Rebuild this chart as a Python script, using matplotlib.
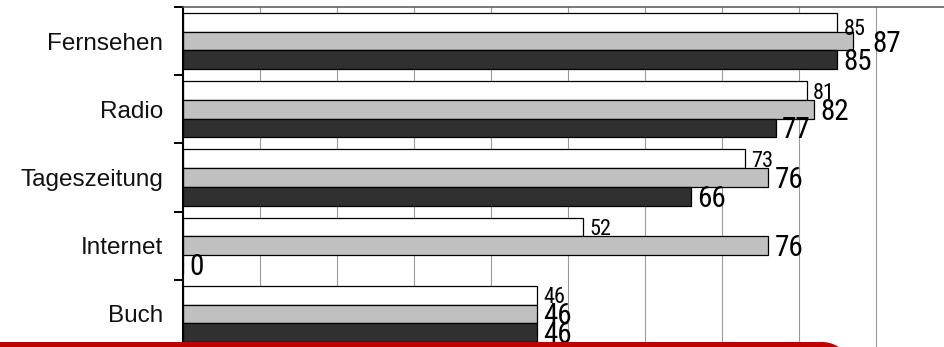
import matplotlib
matplotlib.use("Agg")
import matplotlib.pyplot as plt
import matplotlib.font_manager as fm
from matplotlib.patches import Polygon
import numpy as np

categories = ["Fernsehen", "Radio", "Tageszeitung", "Internet", "Buch"]
series_a = [85, 81, 73, 52, 46]   # white bars
series_b = [87, 82, 76, 76, 46]   # light grey bars
series_c = [85, 77, 66, 0, 46]    # dark bars

# font choice
names = {f.name for f in fm.fontManager.ttflist}
narrow = next((n for n in ["Liberation Sans Narrow", "Arial Narrow", "Roboto Condensed",
                           "Archivo Narrow", "PT Sans Narrow"] if n in names), "Liberation Sans")
label_font = "Liberation Sans" if "Liberation Sans" in names else "DejaVu Sans"

W, H = 945, 347
fig = plt.figure(figsize=(W / 100, H / 100), dpi=100)
ax_left, ax_right, ax_top, ax_bottom = 183, 952.8, 7, 348
ax = fig.add_axes([ax_left / W, 1 - ax_bottom / H, (ax_right - ax_left) / W, (ax_bottom - ax_top) / H])

y = np.arange(len(categories))
h = 0.274
colors = ["#ffffff", "#c0c0c0", "#303030"]
all_series = [series_a, series_b, series_c]
offsets = [-h, 0, h]
for vals, col, off in zip(all_series, colors, offsets):
    ax.barh(y + off, vals, height=h, color=col, edgecolor="black", linewidth=0.9, zorder=2)

ax.set_xlim(0, 100)
ax.set_ylim(len(categories) - 0.5, -0.5)
ax.set_xticks(np.arange(0, 101, 10))
ax.xaxis.set_ticklabels([])
ax.tick_params(axis="x", length=0)
ax.grid(axis="x", color="#9a9a9a", linewidth=0.8, zorder=0)
ax.set_axisbelow(True)

ax.set_yticks(y)
ax.set_yticklabels(categories, fontsize=17.5, family=label_font, color="#111111")
ax.tick_params(axis="y", which="major", length=0, pad=14.4)
ax.set_yticks(np.arange(-0.5, len(categories)), minor=True)
ax.tick_params(axis="y", which="minor", length=6.5, width=1.4, color="black", direction="out")

for s in ["right", "bottom"]:
    ax.spines[s].set_visible(False)
ax.spines["left"].set_linewidth(1.5)
ax.spines["left"].set_color("black")
ax.spines["top"].set_linewidth(1.1)
ax.spines["top"].set_color("#555555")

sizes = [16, 21, 21]
for si, (vals, off, fs) in enumerate(zip(all_series, offsets, sizes)):
    for ci, v in enumerate(vals):
        dx, dy = 4.5, 0.0
        if ci == 0 and si == 0:
            dy = -3.6
        if ci == 0 and si == 1:
            dx = 14.4
        ax.annotate(str(v), xy=(v, y[ci] + off), xytext=(dx, dy - 0.358 * fs),
                    textcoords="offset points", va="baseline", ha="left",
                    fontsize=fs, family=narrow, color="black", zorder=5,
                    annotation_clip=False)

# red band at the bottom
xc, r, top = 822, 30, 5
theta = np.linspace(np.pi / 2, 0, 30)
pts = [(-5, -5), (-5, top)] + [(xc + r * np.cos(t), top - r + r * np.sin(t)) for t in theta] + [(xc + r, -5)]
pts = [(px / W, py / H) for px, py in pts]
fig.patches.append(Polygon(pts, closed=True, transform=fig.transFigure, facecolor="#c00000",
                           edgecolor="none", zorder=10))

fig.savefig("out.png", dpi=100)
